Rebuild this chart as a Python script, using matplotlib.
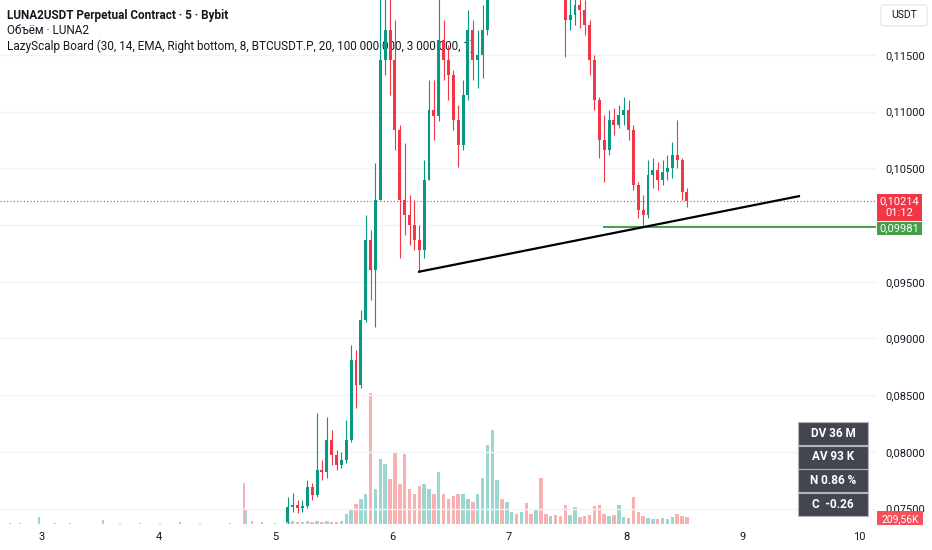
import numpy as np
import matplotlib
matplotlib.use("Agg")
import matplotlib.pyplot as plt
from matplotlib.patches import Rectangle, FancyBboxPatch
from matplotlib.ticker import FuncFormatter

plt.rcParams['font.family'] = ['Roboto', 'DejaVu Sans']

# hourly candles, first candle opens on day 5.105
t_start = 5.105
step = 1 / 24
first_open = 0.07382

highs = [0.07602, 0.07638, 0.07576, 0.07576, 0.07752, 0.07726, 0.08343, 0.07929, 0.08308, 0.08193,
         0.08017, 0.07999, 0.08281, 0.08943, 0.08899, 0.09251, 0.10089, 0.09957, 0.10548, 0.12250,
         0.12250, 0.12073, 0.11809, 0.10880, 0.10724, 0.10265, 0.10221, 0.10001, 0.10574, 0.11280,
         0.11280, 0.12029, 0.11809, 0.11588, 0.11368, 0.11059, 0.11280, 0.11897, 0.11809, 0.11720,
         0.11941, 0.12338, 0.1262, 0.1290, 0.1281, 0.1305, 0.1320, 0.1302, 0.1298, 0.1290,
         0.1270, 0.1280, 0.1276, 0.1262, 0.1268, 0.1258, 0.1246, 0.1235, 0.12073, 0.12117,
         0.12073, 0.11985, 0.11809, 0.11500, 0.11130, 0.10971, 0.11015, 0.11033, 0.11059, 0.11130,
         0.11103, 0.10880, 0.10380, 0.10265, 0.10574, 0.10592, 0.10556, 0.10574, 0.10618, 0.10733,
         0.10927, 0.10592, 0.10327]
lows = [0.07373, 0.07471, 0.07462, 0.07471, 0.07506, 0.07576, 0.07602, 0.07752, 0.07770, 0.07885,
        0.07840, 0.07858, 0.07902, 0.08087, 0.08387, 0.08564, 0.09146, 0.09340, 0.09102, 0.10221,
        0.11324, 0.11147, 0.10662, 0.09710, 0.09913, 0.09825, 0.09780, 0.09587, 0.09710, 0.10398,
        0.10750, 0.10920, 0.11280, 0.11103, 0.10839, 0.10512, 0.10662, 0.11103, 0.11280, 0.11209,
        0.11297, 0.11676, 0.1214, 0.1236, 0.1232, 0.1245, 0.1262, 0.1250, 0.1258, 0.1240,
        0.1226, 0.1238, 0.1231, 0.1218, 0.1225, 0.1212, 0.1206, 0.11482, 0.11720, 0.11765,
        0.11738, 0.11676, 0.11324, 0.11015, 0.10592, 0.10380, 0.10620, 0.10795, 0.10856, 0.10883,
        0.10750, 0.10310, 0.10063, 0.09983, 0.10063, 0.10327, 0.10310, 0.10354, 0.10398, 0.10415,
        0.10504, 0.10221, 0.10160]
closes = [0.07514, 0.07532, 0.07506, 0.07523, 0.07691, 0.07620, 0.07840, 0.07823, 0.08105, 0.07973,
          0.07885, 0.07929, 0.08105, 0.08811, 0.08590, 0.09163, 0.09869, 0.09604, 0.10221, 0.11456,
          0.11720, 0.11456, 0.10839, 0.10221, 0.10089, 0.10001, 0.09869, 0.09780, 0.10398, 0.11015,
          0.10960, 0.11632, 0.11456, 0.11324, 0.10927, 0.10706, 0.11147, 0.11720, 0.11456, 0.11500,
          0.11720, 0.12161, 0.1245, 0.1268, 0.1252, 0.1280, 0.1296, 0.1271, 0.1284, 0.1262,
          0.1248, 0.1266, 0.1255, 0.1240, 0.1252, 0.1236, 0.1228, 0.11809, 0.11853, 0.11941,
          0.11897, 0.11765, 0.11456, 0.11103, 0.10750, 0.10662, 0.10927, 0.10883, 0.10971, 0.11015,
          0.10839, 0.10354, 0.10133, 0.10089, 0.10442, 0.10486, 0.10398, 0.10468, 0.10504, 0.10618,
          0.10574, 0.10292, 0.10214]
volume_k = [60, 90, 60, 60, 90, 60, 90, 60, 90, 60,
            60, 90, 300, 450, 600, 750, 900, 3930, 1050, 1950,
            1800, 1350, 2160, 1200, 2100, 1050, 900, 1140, 1200, 1050,
            900, 1560, 900, 750, 840, 900, 900, 750, 660, 900,
            1380, 2370, 2820, 1320, 750, 660, 360, 300, 360, 630,
            300, 420, 1380, 300, 240, 270, 240, 570, 270, 510,
            210, 240, 270, 540, 570, 300, 240, 270, 570, 210,
            180, 810, 360, 240, 180, 150, 150, 180, 150, 210,
            300, 240, 209.56]

# volume before the candles come into view (price below the visible range)
pre_days = [2.726, 2.812, 2.974, 3.111, 3.240, 3.522, 3.668, 3.839, 4.010, 4.182,
            4.353, 4.610, 4.729, 4.747, 4.798, 4.884, 4.995]
pre_volume_k = [30, 30, 210, 30, 30, 120, 30, 30, 30, 60, 30, 30, 1230, 420, 90, 60, 30]
pre_up = [True, False, True, False, True, True, False, True, False, True,
          False, True, False, True, False, True, False]

trend_days = [6.219, 9.490]
trend_prices = [0.09587, 0.10257]
level_start = 7.803
level_price = 0.09981
last_price = 0.10214

price_ticks = [0.075, 0.080, 0.085, 0.090, 0.095, 0.100, 0.105, 0.110, 0.115]
day_ticks = [3, 4, 5, 6, 7, 8, 9, 10]
board_rows = ["DV 36 M", "AV 93 K", "N 0.86 %", "C  -0.26"]

UP = '#089981'
DOWN = '#f23645'
TXT = '#131722'

W, H = 932, 550
fig = plt.figure(figsize=(W / 100, H / 100), dpi=100)
fig.patch.set_facecolor('white')


def fx(x):
    return x / W


def fy(y):
    return 1 - y / H


rect = [0, 26 / H, 876 / W, 524 / H]
xlim = (2.6404, 10.1404)
ylim = (0.073642, 0.119850)

ax_vol = fig.add_axes(rect)
ax_vol.set_xlim(xlim)
ax_vol.set_ylim(0, 524 * 30)
ax_vol.axis('off')

ax = fig.add_axes(rect)
ax.patch.set_visible(False)
ax.set_xlim(xlim)
ax.set_ylim(ylim)

highs = np.array(highs)
lows = np.array(lows)
closes = np.array(closes)
opens = np.concatenate([[first_open], closes[:-1]])
times = t_start + np.arange(len(closes)) * step
up = closes >= opens
colors = np.where(up, UP, DOWN)

# volume
vol_colors = np.where(up, '#26a69a', '#ef5350')
ax_vol.bar(times, volume_k, width=step * 0.7, color=vol_colors, alpha=0.45, linewidth=0)
pre_colors = ['#26a69a' if u else '#ef5350' for u in pre_up]
ax_vol.bar(pre_days, pre_volume_k, width=step * 0.5, color=pre_colors, alpha=0.45, linewidth=0)

# grid
for p in price_ticks:
    ax.axhline(p, color='#f0f3fa', lw=1, zorder=0)

# candles
ax.vlines(times, lows, highs, colors=colors, lw=0.8, zorder=3)
body = np.abs(closes - opens)
body = np.maximum(body, 0.00006)
ax.bar(times, body, bottom=np.minimum(opens, closes), width=step * 0.6,
       color=colors, linewidth=0, zorder=3)

# drawings
ax.axhline(last_price, color=DOWN, lw=0.8, ls=(0, (1, 2)), zorder=2)
ax.hlines(level_price, level_start, xlim[1], color='#43a047', lw=1.4, zorder=4)
ax.plot(trend_days, trend_prices, color='black', lw=1.6, zorder=5, solid_capstyle='butt')

# axes styling
for s in ax.spines.values():
    s.set_visible(False)
ax.yaxis.tick_right()
ax.set_yticks(price_ticks)
ax.yaxis.set_major_formatter(FuncFormatter(
    lambda v, pos: '' if abs(v - 0.1) < 1e-9 else f"{v:.5f}".replace('.', ',')))
ax.tick_params(axis='y', length=0, pad=7, labelsize=8, labelcolor=TXT)
ax.set_xticks(day_ticks)
ax.set_xticklabels([str(d) for d in day_ticks])
ax.tick_params(axis='x', length=0, pad=6, labelsize=8, labelcolor=TXT)

# legend text
ax.text(fx(7), fy(15), "LUNA2USDT Perpetual Contract · 5 · Bybit", transform=fig.transFigure,
        fontsize=8.5, fontweight='bold', color=TXT, va='center', ha='left', zorder=1)
ax.text(fx(7), fy(31), "Объём · LUNA2", transform=fig.transFigure,
        fontsize=8.5, color=TXT, va='center', ha='left', zorder=1)
ax.text(fx(7), fy(46), "LazyScalp Board (30, 14, EMA, Right bottom, 8, BTCUSDT.P, 20, 100 000 000, 3 000 000, 1)",
        transform=fig.transFigure, fontsize=8.5, color=TXT, va='center', ha='left', zorder=1)

# price scale labels
fig.patches.append(FancyBboxPatch((fx(881), fy(26)), fx(46), 21 / H, boxstyle='round,pad=0,rounding_size=0.004',
                                  transform=fig.transFigure, facecolor='white', edgecolor='#e0e3eb', lw=0.8))
fig.text(fx(904), fy(15), "USDT", fontsize=7.5, color=TXT, ha='center', va='center')

fig.patches.append(Rectangle((fx(877), fy(221)), fx(45), 27 / H, transform=fig.transFigure,
                             facecolor=DOWN, edgecolor='none'))
fig.text(fx(899.5), fy(201), f"{last_price:.5f}".replace('.', ','), fontsize=8, color='white', ha='center', va='center')
fig.text(fx(899.5), fy(213.5), "01:12", fontsize=8, color='white', ha='center', va='center')

fig.patches.append(Rectangle((fx(877), fy(235)), fx(45), 13 / H, transform=fig.transFigure,
                             facecolor='#43a047', edgecolor='none'))
fig.text(fx(899.5), fy(228), f"{level_price:.5f}".replace('.', ','), fontsize=8, color='white', ha='center', va='center')

fig.patches.append(Rectangle((fx(877), fy(525)), fx(46), 14 / H, transform=fig.transFigure,
                             facecolor='#f4515c', edgecolor='none'))
fig.text(fx(900), fy(519), f"{volume_k[-1]:.2f}K".replace('.', ','), fontsize=7.5, color='white',
         ha='center', va='center')

# LazyScalp board
for k, row in enumerate(board_rows):
    top = 422 + k * 23.5
    fig.patches.append(Rectangle((fx(798), fy(top + 23)), fx(70), 23 / H, transform=fig.transFigure,
                                 facecolor='#434651', edgecolor='#b2b5be', lw=0.8, zorder=6))
    fig.text(fx(833), fy(top + 11.5), row, fontsize=8.5, fontweight='bold', color='white',
             ha='center', va='center', zorder=7)

fig.savefig('out.png', dpi=100)
